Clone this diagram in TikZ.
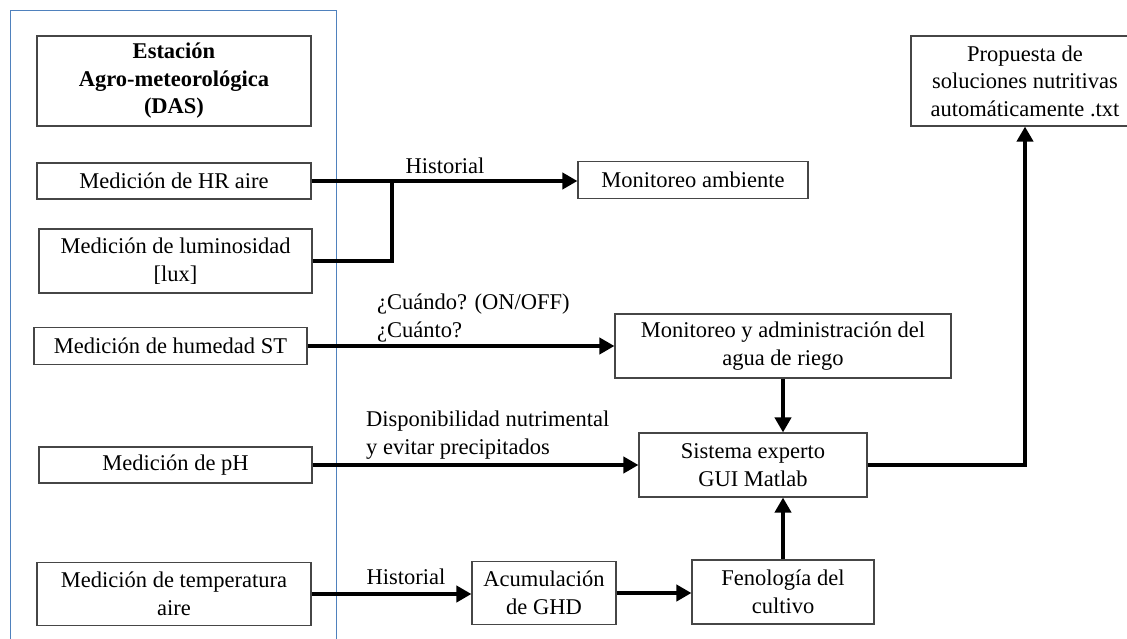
\documentclass[tikz,border=0pt]{standalone}
\usepackage{fontspec}
\setmainfont{Liberation Serif}
\usetikzlibrary{arrows.meta}
\definecolor{frameblue}{RGB}{79,129,189}
\definecolor{boxgray}{RGB}{70,70,70}
\begin{document}
\begin{tikzpicture}[x=1pt,y=-1pt,
  font=\fontsize{22.5}{27.5}\selectfont,
  box/.style={draw=boxgray, line width=1.1pt, align=center, inner sep=0pt},
  flow/.style={line width=4.5pt, -{Triangle[length=15pt,width=16pt]}},
  plain/.style={line width=4.5pt},
  lbl/.style={inner sep=0pt, align=left}]
\useasboundingbox (0,0) rectangle (1127,639);
\draw[frameblue, line width=0.9pt] (10,10) rectangle (336,660);

\node[box, minimum width=274pt, minimum height=90pt, font=\fontsize{22.5}{27.5}\selectfont\bfseries] (est) at (174,81) {Estación\\Agro-meteorológica\\(DAS)};
\node[box, minimum width=274pt, minimum height=36pt] (hr) at (174,181) {Medición de HR aire};
\node[box, minimum width=273pt, minimum height=64pt] (lux) at (175.5,261) {Medición de luminosidad\\{}[lux]};
\node[box, minimum width=273pt, minimum height=37pt] (st) at (170.5,346) {Medición de humedad ST};
\node[box, minimum width=273pt, minimum height=36pt] (ph) at (175.5,465) {Medición de pH};
\node[box, minimum width=274pt, minimum height=63pt] (temp) at (174,594) {Medición de temperatura\\aire};

\node[box, minimum width=230pt, minimum height=37pt] (amb) at (693,180) {Monitoreo ambiente};
\node[box, minimum width=336pt, minimum height=64pt] (riego) at (783,346) {Monitoreo y administración del\\agua de riego};
\node[box, minimum width=228pt, minimum height=64pt] (sis) at (753,465) {Sistema experto\\GUI Matlab};
\node[box, minimum width=144pt, minimum height=63pt] (acu) at (544,593) {Acumulación\\de GHD};
\node[box, minimum width=182pt, minimum height=64pt] (fen) at (783,592) {Fenología del\\cultivo};
\node[box, minimum width=228pt, minimum height=90pt] (prop) at (1025,81) {Propuesta de\\soluciones nutritivas\\automáticamente .txt};

\coordinate (j) at (392,181);
\draw[flow] (hr.east) -- (amb.west |- hr.east);
\draw[plain] (lux.east) -| (j);
\draw[flow] (st.east) -- (riego.west |- st.east);
\draw[flow] (ph.east) -- (sis.west |- ph.east);
\draw[flow] (temp.east) -- (acu.west |- temp.east);
\draw[flow] (acu.east) -- (fen.west |- acu.east);
\draw[flow] (riego.south) -- (riego.south |- sis.north);
\draw[flow] (fen.north) -- (fen.north |- sis.south);
\draw[flow] (sis.east) -| (prop.south);

\node[lbl] (h1) at (445,166) {Historial};
\node[lbl, anchor=west] (q) at (377,318) {¿Cuándo? (ON/OFF)\\¿Cuánto?};
\node[lbl, anchor=west] (d) at (366,435) {Disponibilidad nutrimental\\y evitar precipitados};
\node[lbl] (h2) at (406,577) {Historial};
\end{tikzpicture}
\end{document}
